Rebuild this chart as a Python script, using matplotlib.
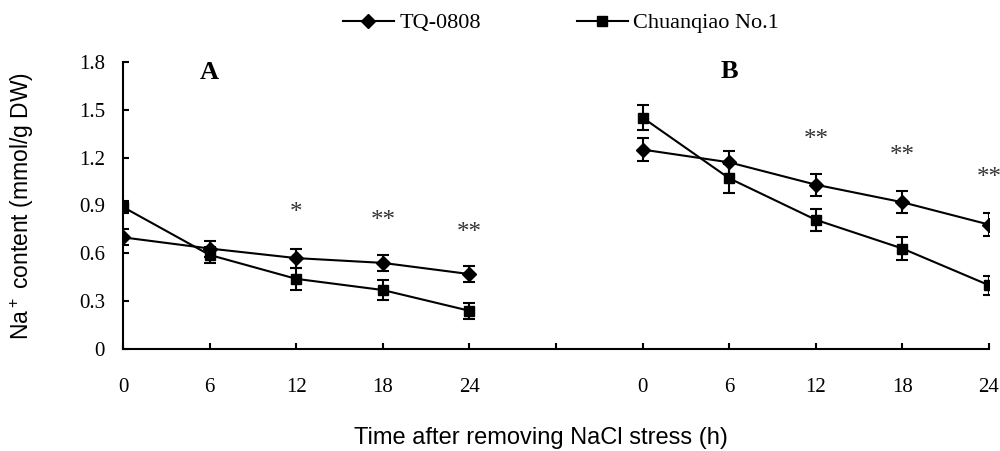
import matplotlib
matplotlib.use("Agg")
import matplotlib.pyplot as plt
from matplotlib.lines import Line2D
import numpy as np

# time points (h) for each panel
times = [0, 6, 12, 18, 24]

# panel A values
tq_a = [0.70, 0.63, 0.57, 0.54, 0.47]
tq_a_err = [0.05, 0.05, 0.06, 0.05, 0.05]
cq_a = [0.89, 0.59, 0.44, 0.37, 0.24]
cq_a_err = [0.04, 0.05, 0.07, 0.06, 0.05]

# panel B values
tq_b = [1.25, 1.17, 1.03, 0.92, 0.78]
tq_b_err = [0.07, 0.07, 0.07, 0.07, 0.07]
cq_b = [1.45, 1.07, 0.81, 0.63, 0.40]
cq_b_err = [0.08, 0.09, 0.07, 0.07, 0.06]

# significance marks (label, height)
sig_a = ["", "", "*", "**", "**"]
sig_a_y = [0, 0, 0.85, 0.80, 0.73]
sig_b = ["", "", "**", "**", "**"]
sig_b_y = [0, 0, 1.31, 1.21, 1.07]

serif = "Liberation Serif"
sans = "Liberation Sans"
plt.rcParams['mathtext.fontset'] = 'custom'
plt.rcParams['mathtext.rm'] = sans
plt.rcParams['mathtext.it'] = sans

fig = plt.figure(figsize=(10, 4.51), dpi=100)
ax = fig.add_axes([0.123, 0.226, 0.866, 0.637])

xa = np.arange(5)
xb = np.arange(5) + 6

line_kw = dict(color='black', lw=1.5, elinewidth=1.5, capsize=4.5, capthick=1.5)
for xs, tq, tqe, cq, cqe in [(xa, tq_a, tq_a_err, cq_a, cq_a_err),
                             (xb, tq_b, tq_b_err, cq_b, cq_b_err)]:
    ax.errorbar(xs, tq, yerr=tqe, marker='D', ms=7.5, **line_kw)
    ax.errorbar(xs, cq, yerr=cqe, marker='s', ms=7.5, **line_kw)

for xs, marks, ys in [(xa, sig_a, sig_a_y), (xb, sig_b, sig_b_y)]:
    for x, m, y in zip(xs, marks, ys):
        if m:
            ax.text(x, y, m, ha='center', va='center', fontsize=18,
                    family=serif, color='#333333', clip_on=False)

ax.text(1, 1.73, "A", ha='center', va='center', fontsize=19, fontweight='bold', family=serif)
ax.text(7, 1.74, "B", ha='center', va='center', fontsize=19, fontweight='bold', family=serif)

ax.set_xlim(0, 10)
ax.set_ylim(0, 1.8)
ax.set_xticks(np.arange(11))
ax.set_xticklabels([str(t) for t in times] + [""] + [str(t) for t in times])
ax.set_yticks(np.arange(0, 1.81, 0.3))
ax.set_yticklabels(["0", "0.3", "0.6", "0.9", "1.2", "1.5", "1.8"])
ax.tick_params(direction='in', length=4, width=1.5)
ax.tick_params(axis='x', pad=21)
ax.tick_params(axis='y', pad=13)
for lab in ax.get_xticklabels() + ax.get_yticklabels():
    lab.set_family(serif)
    lab.set_fontsize(15)

ax.spines['top'].set_visible(False)
ax.spines['right'].set_visible(False)
ax.spines['left'].set_linewidth(1.5)
ax.spines['bottom'].set_linewidth(1.5)

fig.text(0.541, 1 - 438 / 451, "Time after removing NaCl stress (h)", family=sans,
         fontsize=17, ha='center', va='center')
fig.text(0.022, 1 - 206 / 451, r"Na$^+$ content (mmol/g DW)", family=sans,
         fontsize=16.5, ha='center', va='center', rotation=90)

handles = [Line2D([], [], color='black', lw=1.5, marker='D', ms=7),
           Line2D([], [], color='black', lw=1.5, marker='s', ms=7)]
fig.legend(handles, ["TQ-0808", "Chuanqiao No.1"], loc='center', bbox_to_anchor=(0.561, 0.949),
           ncol=2, frameon=False, prop={'family': serif, 'size': 16},
           handlelength=2.3, columnspacing=4.3, handletextpad=0.25)

fig.savefig("out.png", dpi=100)
